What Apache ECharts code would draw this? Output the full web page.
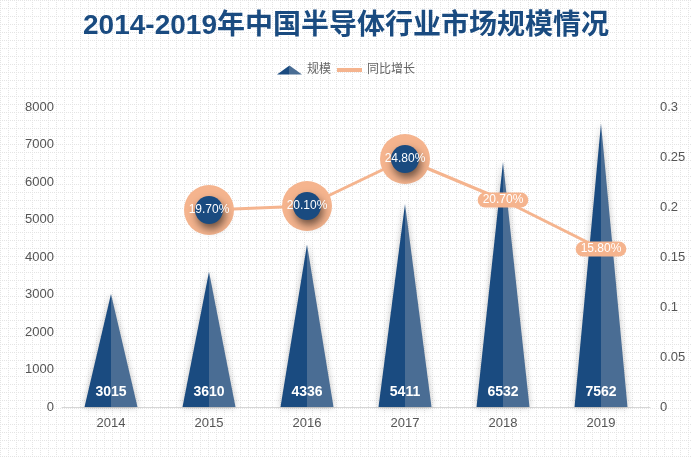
<!DOCTYPE html>
<html>
<head>
<meta charset="utf-8">
<script src="https://cdn.jsdelivr.net/npm/echarts@6/dist/echarts.min.js"></script>
<style>
html,body{margin:0;padding:0;}
body{
  background-color:#fff;
  background-image:url("data:image/svg+xml;utf8,<svg xmlns='http://www.w3.org/2000/svg' width='8' height='8'><g fill='%23e4e4e4'><rect x='0' y='0' width='1' height='1'/><rect x='2' y='0' width='1' height='1'/><rect x='4' y='0' width='1' height='1'/><rect x='6' y='0' width='1' height='1'/><rect x='0' y='2' width='1' height='1'/><rect x='0' y='4' width='1' height='1'/><rect x='0' y='6' width='1' height='1'/></g></svg>");
  background-size:8px 8px;
}
#c{width:692px;height:458px;}
</style>
</head>
<body>
<div id="c"></div>
<script>
const years = ['2014','2015','2016','2017','2018','2019'];
const scale = [3015, 3610, 4336, 5411, 6532, 7562];
const growth = [null, 0.197, 0.201, 0.248, 0.207, 0.158];
const ringedYears = ['2015','2016','2017'];
const leftTicks = {min:0, max:8000, interval:1000};
const rightTicks = {min:0, max:0.3, interval:0.05};

const dark = '#1a4b80';
const light = '#4a6d94';
const orange = '#f5b48e';
const font = 'Arial, "Liberation Sans", "Noto Sans CJK SC", sans-serif';

const barColor = {
  type:'linear', x:0, y:0, x2:1, y2:0,
  colorStops:[
    {offset:0, color:dark},{offset:0.5, color:dark},
    {offset:0.5, color:light},{offset:1, color:light}
  ]
};

const pct = v => (v*100).toFixed(2) + '%';

const ringData = years.map((y,i) => ringedYears.includes(y) && growth[i] != null ? growth[i] : '-');
const dotData = years.map((y,i) => {
  if (growth[i] == null) return '-';
  if (ringedYears.includes(y)) return growth[i];
  return {
    value: growth[i],
    symbolSize: 0,
    label: {backgroundColor: orange, borderRadius: 9, padding: [2, 5, 1, 5]}
  };
});

const chart = echarts.init(document.getElementById('c'), null, {renderer:'canvas'});
chart.setOption({
  backgroundColor: 'transparent',
  textStyle: {fontFamily: font},
  title: {
    text: '2014-2019年中国半导体行业市场规模情况',
    left: 'center', top: 7,
    textStyle: {color: '#1a4b80', fontSize: 28, fontWeight: 'bold', fontFamily: font}
  },
  legend: {
    top: 59, left: 'center',
    itemGap: 4, itemWidth: 25, itemHeight: 9,
    textStyle: {color: '#666', fontSize: 12, fontFamily: font},
    data: ['规模', {name: '同比增长', itemStyle: {opacity: 0}, lineStyle: {width: 4, color: orange}}]
  },
  grid: {left: 62, right: 42, top: 107, bottom: 51},
  xAxis: {
    type: 'category', data: years,
    axisLine: {lineStyle: {color: '#d6d6d6'}},
    axisTick: {show: false},
    axisLabel: {color: '#555', fontSize: 13, margin: 10}
  },
  yAxis: [
    {
      type: 'value', min: leftTicks.min, max: leftTicks.max, interval: leftTicks.interval,
      axisLine: {show: false}, axisTick: {show: false}, splitLine: {show: false},
      axisLabel: {color: '#555', fontSize: 13, margin: 8, formatter: v => String(v)}
    },
    {
      type: 'value', min: rightTicks.min, max: rightTicks.max, interval: rightTicks.interval,
      axisLine: {show: false}, axisTick: {show: false}, splitLine: {show: false},
      axisLabel: {color: '#555', fontSize: 13, margin: 10}
    }
  ],
  series: [
    {
      name: '规模', type: 'pictorialBar', data: scale,
      symbol: 'triangle', barWidth: 53,
      itemStyle: {color: barColor, shadowColor: 'rgba(0,0,0,0.25)', shadowBlur: 6},
      label: {
        show: true, position: 'insideBottom', distance: 8,
        color: '#fff', fontSize: 14, fontWeight: 'bold', fontFamily: font
      },
      z: 1
    },
    {
      name: '同比增长', type: 'line', yAxisIndex: 1, data: growth.map(v => v == null ? '-' : v),
      symbol: 'none', showSymbol: false, lineStyle: {color: orange, width: 3},
      itemStyle: {color: orange},
      z: 3
    },
    {
      name: 'growthRing', type: 'scatter', yAxisIndex: 1, data: ringData,
      symbol: 'circle', symbolSize: 50,
      itemStyle: {color: orange, opacity: 1},
      z: 4, silent: true
    },
    {
      name: 'growthDot', type: 'scatter', yAxisIndex: 1, data: dotData,
      symbol: 'circle', symbolSize: 28,
      itemStyle: {color: dark, opacity: 1, shadowColor: 'rgba(0,0,0,0.55)', shadowBlur: 8, shadowOffsetX: 2, shadowOffsetY: 5},
      label: {
        show: true, position: 'inside', color: '#fff', fontSize: 12, fontFamily: font,
        formatter: p => pct(p.value)
      },
      z: 5, silent: true
    }
  ]
});
</script>
</body>
</html>
